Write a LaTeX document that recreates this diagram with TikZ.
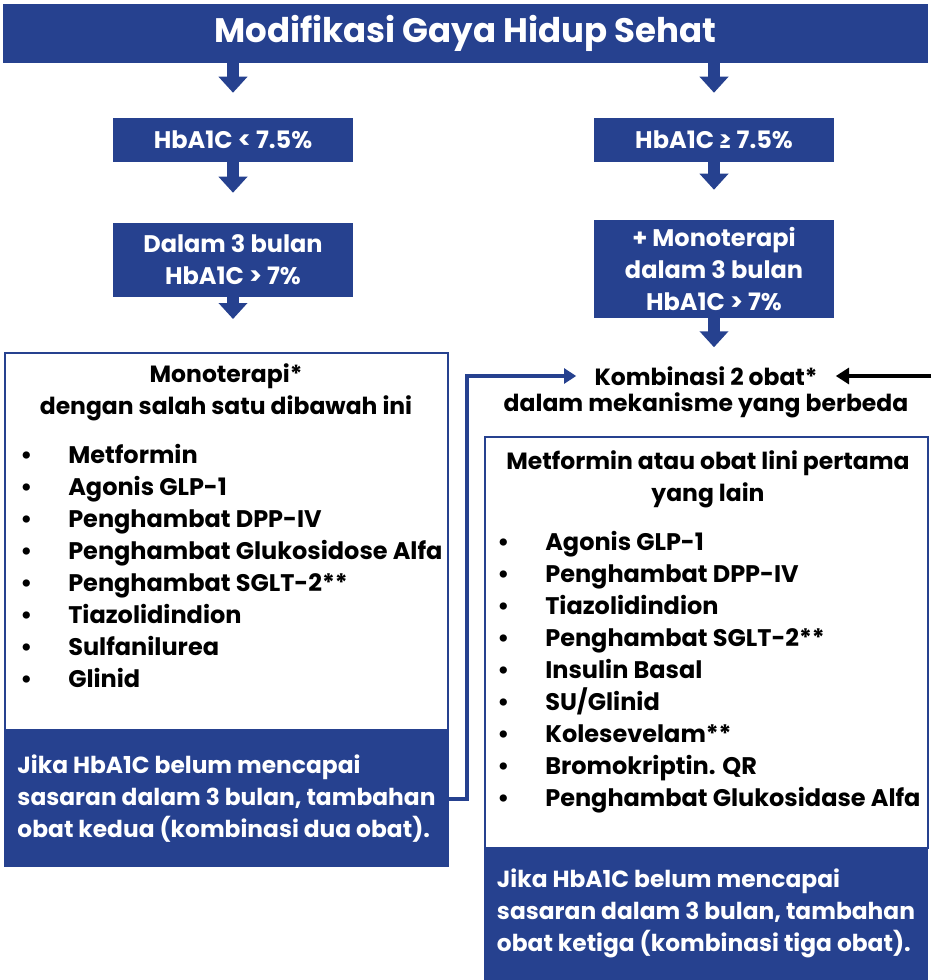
\documentclass[tikz,border=0pt]{standalone}
\usepackage{fontspec}
\setmainfont{Poppins}
\usetikzlibrary{arrows.meta}
\definecolor{navy}{HTML}{26418F}
\newcommand{\pill}[1]{\makebox[36pt][l]{\textbullet}#1}
\tikzset{
  bluebox/.style={fill=navy, text=white, inner sep=0pt, align=center, font=\bfseries\fontsize{18}{24}\selectfont},
  notebox/.style={bluebox, align=left, font=\bfseries\fontsize{17.5}{24}\selectfont},
  whitebox/.style={draw=navy, line width=1.5pt, fill=white, inner sep=0pt},
  label/.style={inner sep=0pt, align=center, font=\bfseries\fontsize{17.6}{24}\selectfont},
  druglist/.style={inner sep=0pt, align=left, font=\bfseries\fontsize{18}{24}\selectfont},
  downarrow/.style={navy, line width=9pt, -{Triangle[length=12pt,width=21pt]}},
  link/.style={navy, line width=3pt, -{Triangle[length=9pt,width=11pt]}},
  feed/.style={black, line width=3pt, -{Triangle[length=10pt,width=12pt]}}
}
\begin{document}
\begin{tikzpicture}[x=0.75pt,y=-0.75pt]
\useasboundingbox (0,0) rectangle (931,980);
% Top bar
\node[bluebox, minimum width=693.75pt, minimum height=44.25pt, font=\bfseries\fontsize{25.5}{32}\selectfont] (title) at (465.5,33.5) {Modifikasi Gaya Hidup Sehat};
% Left branch
\node[bluebox, minimum width=180pt, minimum height=33pt] (lowa) at (233,140) {HbA1C < 7.5\%};
\node[bluebox, minimum width=180pt, minimum height=55.5pt] (lowb) at (233,260) {Dalam 3 bulan\\HbA1C > 7\%};
\node[whitebox, minimum width=332.25pt, minimum height=282.75pt] (mono) at (226.5,541.5) {};
\node[label] (monohead) at (226,392) {Monoterapi*\\dengan salah satu dibawah ini};
\node[druglist, anchor=north west] (monolist) at (20,444) {\pill{Metformin}\\\pill{Agonis GLP-1}\\\pill{Penghambat DPP-IV}\\\pill{Penghambat Glukosidose Alfa}\\\pill{Penghambat SGLT-2**}\\\pill{Tiazolidindion}\\\pill{Sulfanilurea}\\\pill{Glinid}};
\node[notebox, minimum width=333.75pt, minimum height=102.75pt] (lnote) at (226.5,798.5) {Jika HbA1C belum mencapai\\sasaran dalam 3 bulan, tambahan\\obat kedua (kombinasi dua obat).};
% Right branch
\node[bluebox, minimum width=180pt, minimum height=33pt] (higha) at (714,140) {HbA1C ≥ 7.5\%};
\node[bluebox, minimum width=180pt, minimum height=73.5pt] (highb) at (714,269) {+ Monoterapi\\dalam 3 bulan\\HbA1C > 7\%};
\node[label] (komb) at (706,376) {Kombinasi 2 obat*};
\node[label] (kombsub) at (706,405) {dalam mekanisme yang berbeda};
\node[whitebox, minimum width=332.25pt, minimum height=308.25pt] (combo) at (706.5,642.5) {};
\node[label] (combohead) at (708,479) {Metformin atau obat lini pertama\\yang lain};
\node[druglist, anchor=north west] (combolist) at (497,531) {\pill{Agonis GLP-1}\\\pill{Penghambat DPP-IV}\\\pill{Tiazolidindion}\\\pill{Penghambat SGLT-2**}\\\pill{Insulin Basal}\\\pill{SU/Glinid}\\\pill{Kolesevelam**}\\\pill{Bromokriptin. QR}\\\pill{Penghambat Glukosidase Alfa}};
\node[notebox, minimum width=333pt, minimum height=99.75pt] (rnote) at (706,913.5) {Jika HbA1C belum mencapai\\sasaran dalam 3 bulan, tambahan\\obat ketiga (kombinasi tiga obat).};
% Arrows
\draw[downarrow, shorten >=18.75pt] (title.south -| lowa.north) -- (lowa.north);
\draw[downarrow, shorten >=18.75pt] (title.south -| higha.north) -- (higha.north);
\draw[downarrow, shorten >=22.5pt] (lowa.south) -- (lowb.north);
\draw[downarrow, shorten >=22.5pt] (higha.south) -- (highb.north);
\draw[downarrow, shorten >=24.75pt] (lowb.south) -- (lowb.south |- mono.north);
\draw[downarrow] (highb.south) -- ++(0,29);
\draw[link] (lnote.east) -- ++(18,0) |- ([xshift=-13.5pt]komb.west);
\coordinate (edge) at (931,376);
\draw[feed] (edge) -- ([xshift=13.5pt]komb.east);
\end{tikzpicture}
\end{document}
